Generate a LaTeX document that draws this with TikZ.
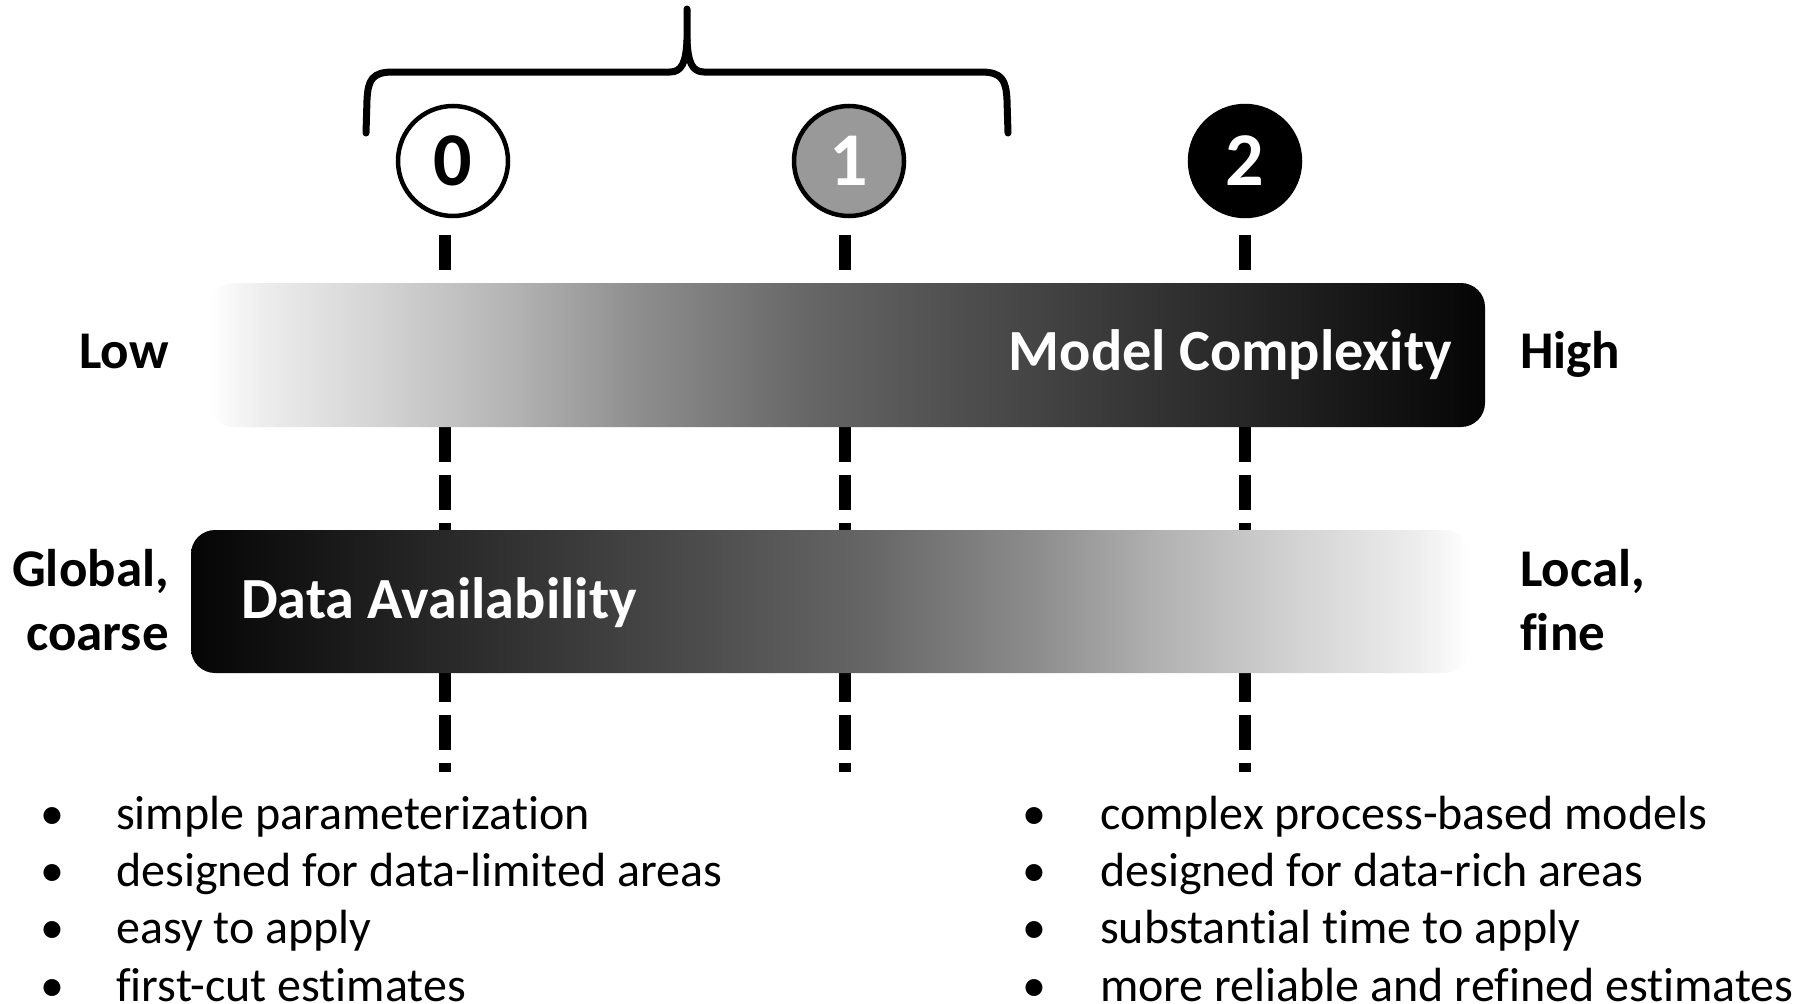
\documentclass[tikz,border=0pt]{standalone}
\usepackage{fontspec}
\setmainfont{Carlito}[Ligatures=NoCommon]

% light-to-dark ramp for the model complexity bar
\pgfdeclarehorizontalshading{rampup}{100bp}{%
  color(0bp)=(white); color(25bp)=(white); color(27bp)=(black!7);
  color(31.65bp)=(black!17); color(37bp)=(black!30); color(42bp)=(black!45);
  color(48.5bp)=(black!60); color(55bp)=(black!70); color(62bp)=(black!80);
  color(68.5bp)=(black!89); color(75bp)=(black!98); color(100bp)=(black!98)}
% dark-to-light ramp for the data availability bar
\pgfdeclarehorizontalshading{rampdown}{100bp}{%
  color(0bp)=(black!98); color(25bp)=(black!98); color(31.5bp)=(black!89);
  color(38bp)=(black!80); color(45bp)=(black!70); color(51.5bp)=(black!60);
  color(58bp)=(black!45); color(63bp)=(black!30); color(68.35bp)=(black!17);
  color(73bp)=(black!7); color(75bp)=(white); color(100bp)=(white)}

\tikzset{
  guide/.style={line width=12pt, dash pattern=on 35pt off 13pt, black},
  levelmark/.style={circle, draw=black, line width=4.5pt, minimum size=110pt,
    inner sep=0pt, font=\fontsize{76}{76}\selectfont\bfseries},
  barlabel/.style={inner sep=0pt, text=white, font=\fontsize{58.3}{70}\selectfont\bfseries},
  sidelabel/.style={inner sep=0pt, font=\fontsize{53}{64}\selectfont\bfseries},
  itemtext/.style={inner sep=0pt, anchor=base west, font=\fontsize{48}{57}\selectfont},
  itemdot/.style={inner sep=0pt, anchor=base, font=\fontsize{48}{57}\selectfont},
  bracket/.style={line width=7pt, line cap=round, line join=round}
}

\begin{document}
\begin{tikzpicture}[x=1pt, y=-1pt]
  \fill[white] (0,0) rectangle (1802,1004);
  \useasboundingbox (0,0) rectangle (1802,1004);

  % level markers
  \node[levelmark, fill=white] (c0) at (453,161) {0};
  \node[levelmark, fill=black!40, text=white] (c1) at (849,161) {1};
  \node[levelmark, fill=black, text=white] (c2) at (1245,161) {2};

  % dashed guides running down from each marker
  \coordinate (g0a) at (445,235);  \coordinate (g0b) at (445,772);
  \coordinate (g1a) at (845,235);  \coordinate (g1b) at (845,772);
  \coordinate (g2a) at (1245,235); \coordinate (g2b) at (1245,772);
  \draw[guide] (g0a) -- (g0b);
  \draw[guide] (g1a) -- (g1b);
  \draw[guide] (g2a) -- (g2b);

  % the two gradient bars
  \shade[shading=rampup, rounded corners=24pt] (210,283) rectangle (1485,427);
  \shade[shading=rampdown, rounded corners=24pt] (191,530) rectangle (1469,673);
  \node[barlabel, anchor=base east] (mc) at (1452,370) {Model Complexity};
  \node[barlabel, anchor=base west] (da) at (241,618) {Data Availability};

  % brace spanning levels 0 and 1
  \draw[bracket] (366,133) -- (367,100)
    .. controls (368,80) and (372,72) .. (393,72) -- (670,72)
    .. controls (682,72) and (686,62) .. (687,40) -- (687,9);
  \draw[bracket] (687,40)
    .. controls (688,62) and (692,72) .. (704,72) -- (981,72)
    .. controls (1002,72) and (1006,80) .. (1007,100) -- (1008,133);

  % end labels of the scales
  \node[sidelabel, anchor=base east] (low) at (169,368) {Low};
  \node[sidelabel, anchor=base west] (high) at (1520,368) {High};
  \node[sidelabel, anchor=base east] (glob) at (169,586) {Global,};
  \node[sidelabel, anchor=base east] (coarse) at (169,650) {coarse};
  \node[sidelabel, anchor=base west] (local) at (1520,586) {Local,};
  \node[sidelabel, anchor=base west] (fine) at (1520,650) {fine};

  % characteristics of simple models
  \foreach \t [count=\i] in {simple parameterization,
      designed for data-limited areas, easy to apply, first-cut estimates} {
    \node[itemdot] (ldot\i) at (52,{829+57.4*(\i-1)}) {•};
    \node[itemtext] (ltxt\i) at (116,{829+57.4*(\i-1)}) {\t};
  }
  % characteristics of complex models
  \foreach \t [count=\i] in {complex process-based models,
      designed for data-rich areas, substantial time to apply,
      more reliable and refined estimates} {
    \node[itemdot] (rdot\i) at (1034,{829+57.4*(\i-1)}) {•};
    \node[itemtext] (rtxt\i) at (1100,{829+57.4*(\i-1)}) {\t};
  }
\end{tikzpicture}
\end{document}
